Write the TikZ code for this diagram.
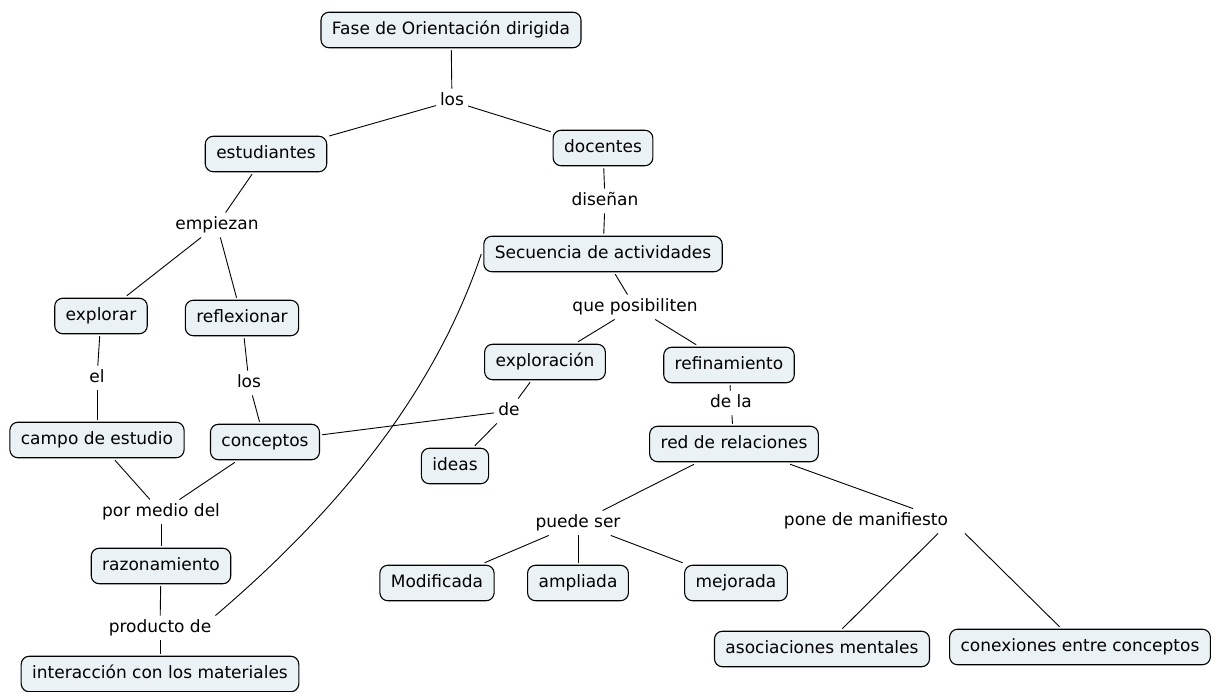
\documentclass[tikz,border=0pt]{standalone}
\usepackage{fontspec}
\setmainfont{DejaVu Sans}
\begin{document}
\begin{tikzpicture}[x=1pt,y=-1pt,
  every node/.style={font=\fontsize{17}{20}\selectfont, text height=12.5pt, text depth=4pt},
  box/.style={draw=black, line width=1.1pt, rounded corners=8pt, fill=boxfill, inner xsep=11pt, inner ysep=9.5pt, outer sep=2.5pt},
  lbl/.style={inner xsep=4pt, inner ysep=4pt},
  link/.style={draw=black, line width=0.9pt}]
\definecolor{boxfill}{HTML}{EBF2F5}
\useasboundingbox (0,0) rectangle (1216,692);
% concepts
\node[box] (fase) at (451,30) {Fase de Orientación dirigida};
\node[box] (est) at (266,154) {estudiantes};
\node[box] (doc) at (603,148) {docentes};
\node[box] (sec) at (603,254) {Secuencia de actividades};
\node[box] (expl) at (101,316) {explorar};
\node[box] (refl) at (242,318) {reflexionar};
\node[box] (explo) at (545,362) {exploración};
\node[box] (refin) at (729,365) {refinamiento};
\node[box] (campo) at (97,440) {campo de estudio};
\node[box] (conc) at (265,442) {conceptos};
\node[box] (ideas) at (455,466) {ideas};
\node[box] (red) at (734,444) {red de relaciones};
\node[box] (razon) at (161,566) {razonamiento};
\node[box] (modif) at (437,583) {Modificada};
\node[box] (ampl) at (578,583) {ampliada};
\node[box] (mejor) at (736,583) {mejorada};
\node[box] (asoc) at (822,649) {asociaciones mentales};
\node[box] (conex) at (1080,647) {conexiones entre conceptos};
\node[box] (inter) at (160,674) {interacción con los materiales};
% linking phrases
\node[lbl] (los) at (452,101) {los};
\node[lbl] (disenan) at (605,201) {diseñan};
\node[lbl] (empiezan) at (217,225) {empiezan};
\node[lbl] (quepos) at (635,307) {que posibiliten};
\node[lbl] (el) at (97,378) {el};
\node[lbl] (losb) at (249,383) {los};
\node[lbl] (de) at (509,411) {de};
\node[lbl] (dela) at (731,403) {de la};
\node[lbl] (pormedio) at (161,512) {por medio del};
\node[lbl] (puede) at (578,523) {puede ser};
\node[lbl] (pone) at (866,521) {pone de manifiesto};
\node[lbl] (prod) at (160,628) {producto de};
% connectors
\draw[link] (fase) -- (los);
\draw[link] (los) -- (est);
\draw[link] (los) -- (doc);
\draw[link] (doc) -- (disenan);
\draw[link] (disenan) -- (sec);
\draw[link] (est) -- (empiezan);
\draw[link] (empiezan) -- (expl);
\draw[link] (empiezan) -- (refl);
\draw[link] (expl) -- (el);
\draw[link] (el) -- (campo);
\draw[link] (refl) -- (losb);
\draw[link] (losb) -- (conc);
\draw[link] (sec) -- (quepos);
\draw[link] (quepos) -- (explo);
\draw[link] (quepos) -- (refin);
\draw[link] (explo) -- (de);
\draw[link] (conc) -- (de);
\draw[link] (de) -- (ideas);
\draw[link] (refin) -- (dela);
\draw[link] (dela) -- (red);
\draw[link] (campo) -- (pormedio);
\draw[link] (conc) -- (pormedio);
\draw[link] (pormedio) -- (razon);
\draw[link] (razon) -- (prod);
\draw[link] (prod) -- (inter);
\draw[link] (sec.west) .. controls (438,382) and (351,500) .. (prod.north east);
\draw[link] (red) -- (puede);
\draw[link] (red) -- ([xshift=47pt]pone.north);
\draw[link] (puede) -- (modif);
\draw[link] (puede) -- (ampl);
\draw[link] (puede) -- (mejor);
\draw[link] ([xshift=72pt]pone.south) -- (asoc);
\draw[link] ([xshift=99pt]pone.south) -- (conex);
\end{tikzpicture}
\end{document}
